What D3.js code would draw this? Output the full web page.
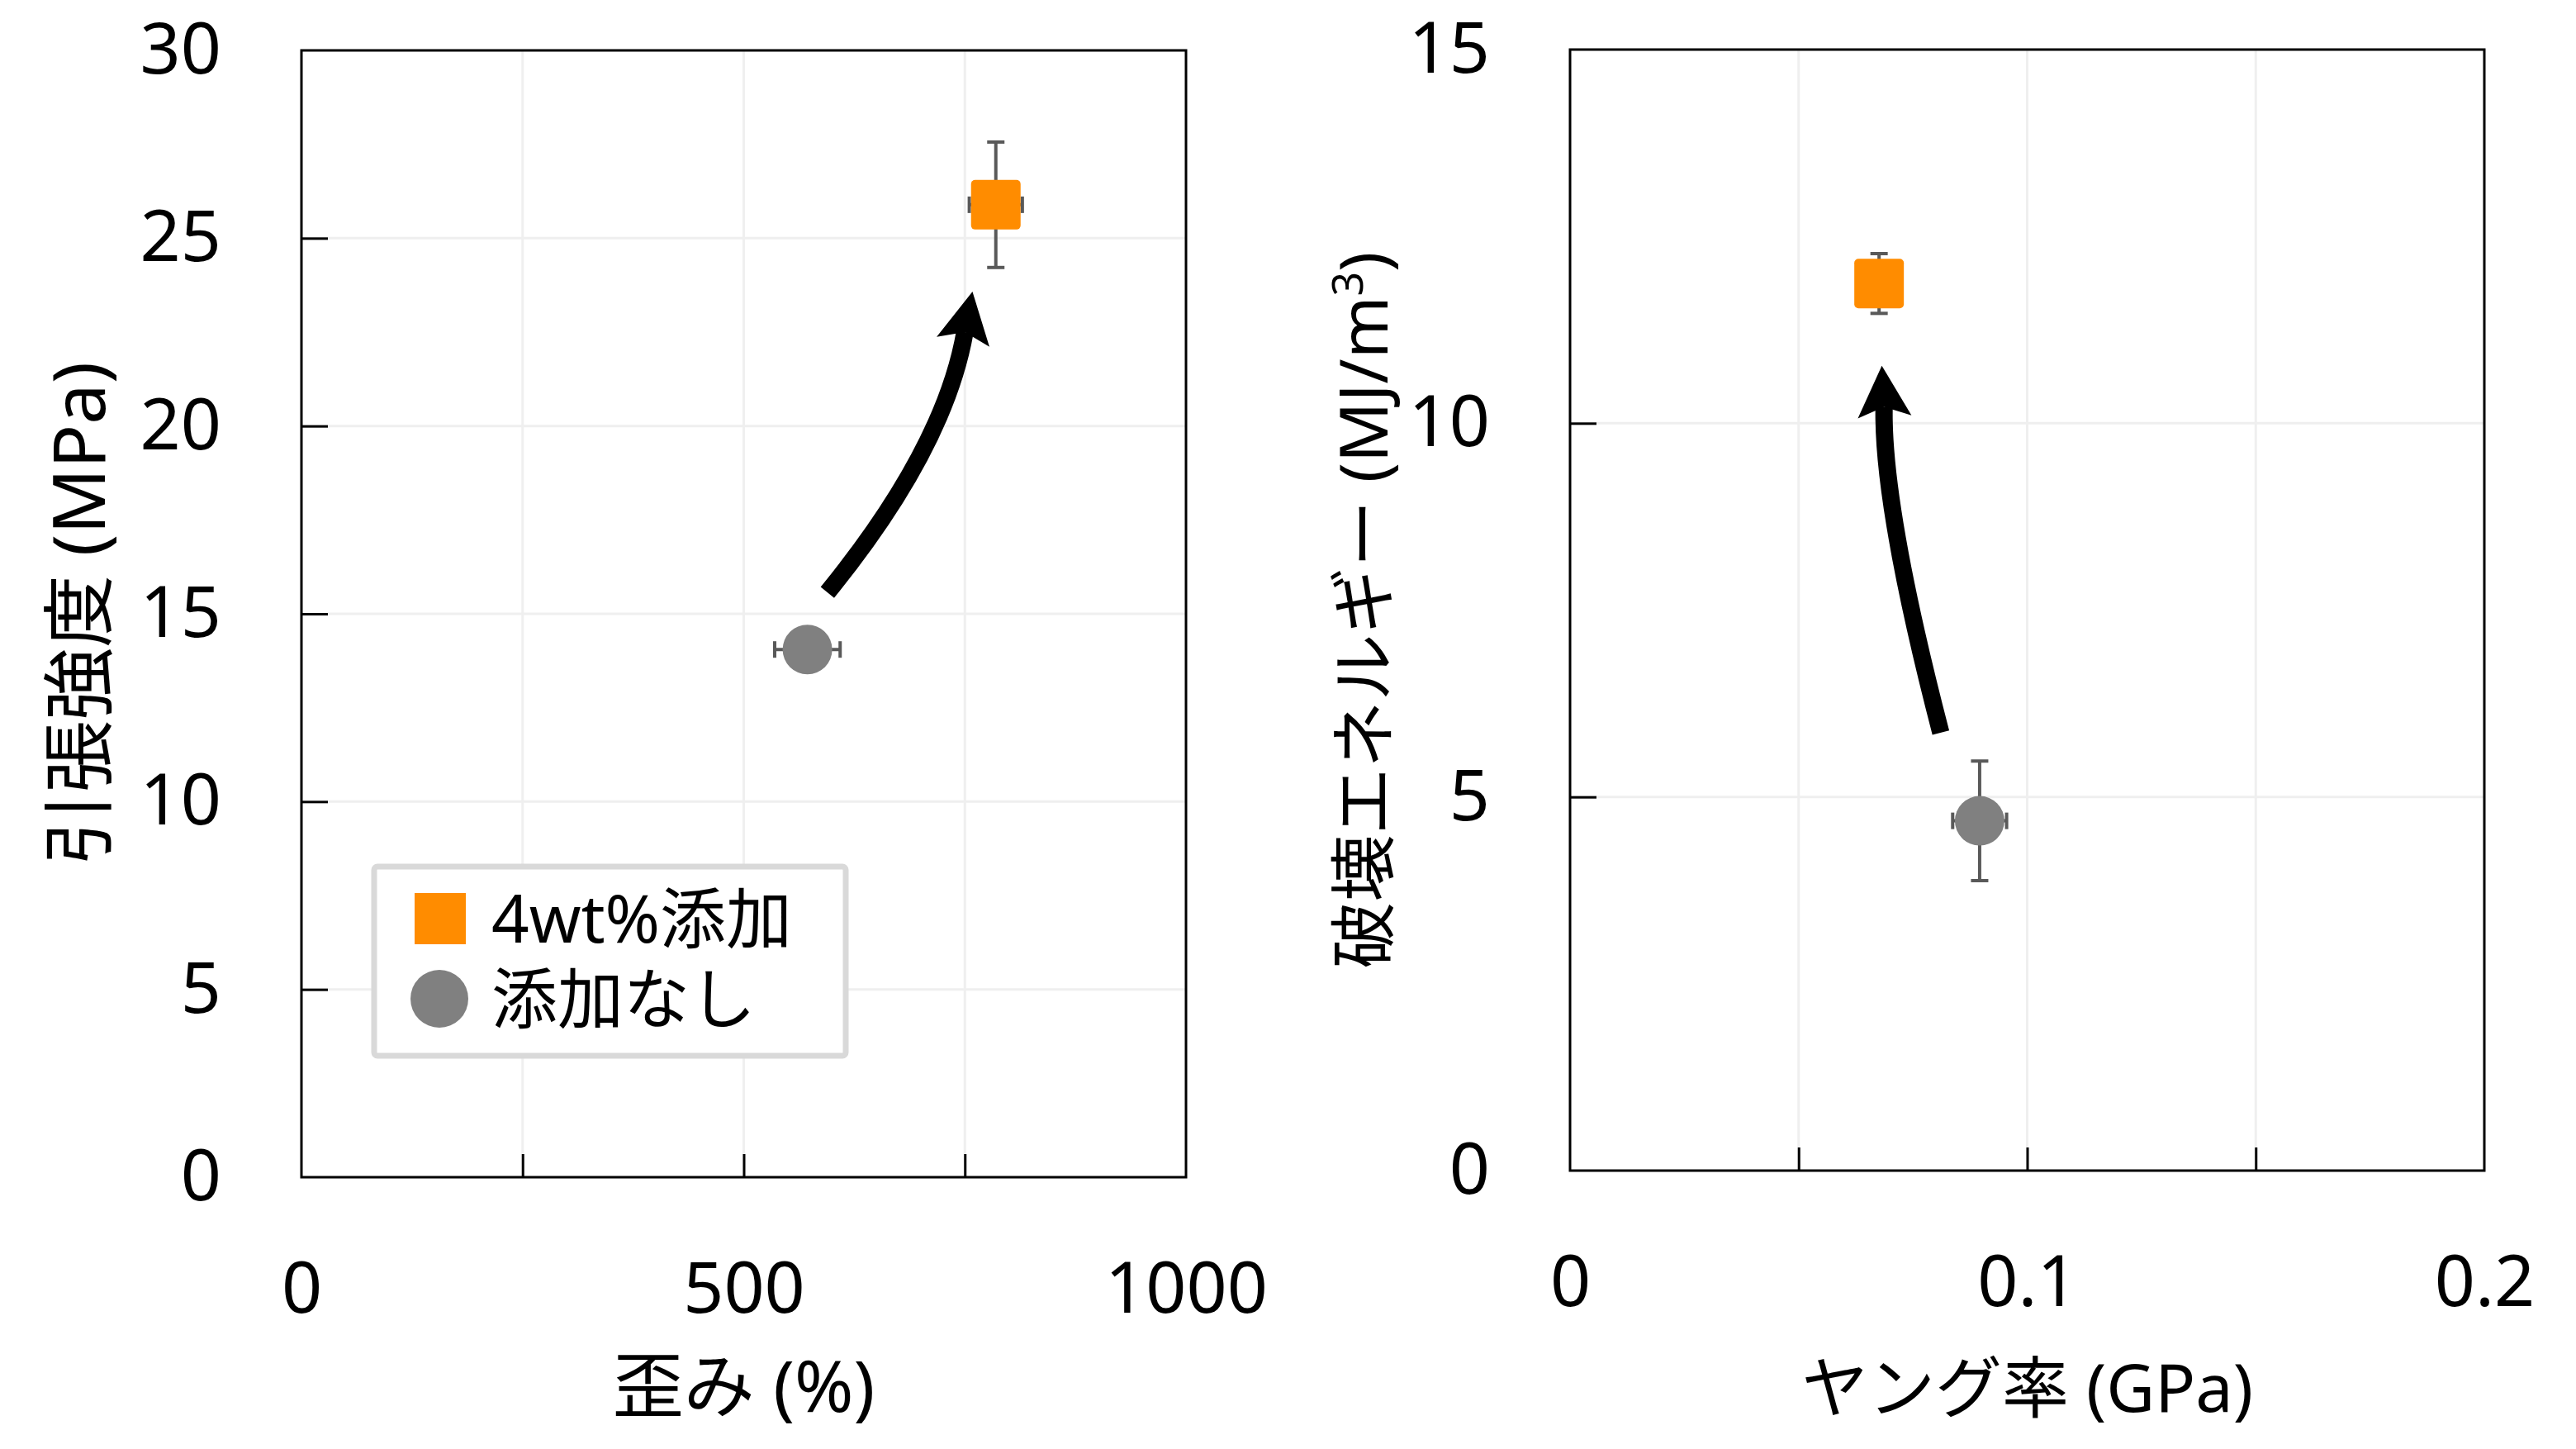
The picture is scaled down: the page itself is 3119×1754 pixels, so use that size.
<!DOCTYPE html>
<html>
<head>
<meta charset="utf-8">
<script src="https://cdn.jsdelivr.net/npm/d3@7"></script>
<style>
body { margin: 0; background: #fff; }
text { font-family: "Noto Sans", "Noto Sans CJK JP", sans-serif; fill: #000; }
</style>
</head>
<body>
<div class="chart"></div>
<script>
// data
var seriesNames = ["4wt%添加", "添加なし"];

var strain = [785, 572];
var strainErr = [30, 37];
var tensile = [25.89, 14.05];
var tensileErr = [1.67, 0.4];

var young = [0.0676, 0.0896];
var youngErr = [0.003, 0.0059];
var energy = [11.87, 4.68];
var energyErr = [0.4, 0.8];

// tick labels and grid positions
var strainTicks = [0, 500, 1000];
var strainGrid = [250, 500, 750];
var tensileTicks = [0, 5, 10, 15, 20, 25, 30];
var tensileGrid = [5, 10, 15, 20, 25];
var youngTicks = [0, 0.1, 0.2];
var youngGrid = [0.05, 0.1, 0.15];
var energyTicks = [0, 5, 10, 15];
var energyGrid = [5, 10];

// arrows in data space: tail, control, end of shaft, tip
var arrowStrain = [[594.6, 15.57], [727, 19.4], [750, 22.5], [758.6, 23.58]];
var arrowYoung = [[0.0811, 5.86], [0.0682, 8.9], [0.0687, 10.22], [0.0682, 10.77]];

var colors = ["#ff8c00", "#808080"];
var errColor = "#595959";
var gridColor = "#efefef";

var svgWidth = 3119;
var svgHeight = 1754;

var svg = d3.select(".chart")
  .append("svg")
  .attr("width", svgWidth)
  .attr("height", svgHeight);

svg.append("rect").attr("width", svgWidth).attr("height", svgHeight).attr("fill", "#fff");

function drawPanel(p) {
  var x = d3.scaleLinear().domain(p.xDomain).range([p.left, p.right]);
  var y = d3.scaleLinear().domain(p.yDomain).range([p.bottom, p.top]);
  var g = svg.append("g");

  // grid
  g.selectAll(".gx").data(p.xGrid).enter().append("line")
    .attr("x1", function(d) { return x(d); })
    .attr("x2", function(d) { return x(d); })
    .attr("y1", p.top).attr("y2", p.bottom)
    .attr("stroke", gridColor).attr("stroke-width", 3);
  g.selectAll(".gy").data(p.yGrid).enter().append("line")
    .attr("y1", function(d) { return y(d); })
    .attr("y2", function(d) { return y(d); })
    .attr("x1", p.left).attr("x2", p.right)
    .attr("stroke", gridColor).attr("stroke-width", 3);

  // inward ticks
  g.append("g")
    .attr("transform", "translate(" + p.left + ",0)")
    .call(d3.axisLeft(y).tickValues(p.yGrid).tickSize(-32).tickFormat(""))
    .call(function(a) { a.select(".domain").remove(); a.selectAll("line").attr("stroke-width", 3); });
  g.append("g")
    .attr("transform", "translate(0," + p.bottom + ")")
    .call(d3.axisBottom(x).tickValues(p.xGrid).tickSize(-28).tickFormat(""))
    .call(function(a) { a.select(".domain").remove(); a.selectAll("line").attr("stroke-width", 3); });

  // box
  g.append("rect")
    .attr("x", p.left).attr("y", p.top)
    .attr("width", p.right - p.left).attr("height", p.bottom - p.top)
    .attr("fill", "none").attr("stroke", "#000").attr("stroke-width", 3);

  // tick labels
  g.append("g")
    .attr("transform", "translate(" + p.left + ",0)")
    .call(d3.axisLeft(y).tickValues(p.yTicks).tickSize(0).tickPadding(97).tickFormat(function(d) { return String(d); }))
    .attr("font-size", 86)
    .call(function(a) { a.select(".domain").remove(); });
  g.append("g")
    .attr("transform", "translate(0," + p.bottom + ")")
    .call(d3.axisBottom(x).tickValues(p.xTicks).tickSize(0).tickPadding(103).tickFormat(function(d) { return String(d); }))
    .attr("font-size", 86)
    .call(function(a) { a.select(".domain").remove(); });

  // axis titles
  g.append("text")
    .attr("x", (p.left + p.right) / 2)
    .attr("y", 1709)
    .attr("text-anchor", "middle")
    .attr("font-size", p.xTitleSize)
    .text(p.xTitle);
  var yt = g.append("text")
    .attr("transform", "translate(" + p.yTitleX + "," + (p.top + p.bottom) / 2 + ") rotate(-90)")
    .attr("text-anchor", "middle")
    .attr("font-size", p.yTitleSize)
    .text(p.yTitle);
  if (p.yTitleSup) {
    yt.append("tspan").attr("font-size", p.yTitleSize * 0.64).attr("dy", -30).text(p.yTitleSup);
    yt.append("tspan").attr("dy", 30).text(")");
  }

  // arrow
  var a = p.arrow.map(function(d) { return [x(d[0]), y(d[1])]; });
  g.append("path")
    .attr("d", "M" + a[0] + "Q" + a[1] + " " + a[2])
    .attr("fill", "none").attr("stroke", "#000").attr("stroke-width", 21);
  var dx = a[3][0] - a[2][0], dy = a[3][1] - a[2][1];
  var len = Math.sqrt(dx * dx + dy * dy);
  dx /= len; dy /= len;
  var bx = a[3][0] - dx * 62, by = a[3][1] - dy * 62;
  var head = [a[3], [bx - dy * 32.5, by + dx * 32.5], a[2], [bx + dy * 32.5, by - dx * 32.5]];
  g.append("path")
    .attr("d", "M" + head.join("L") + "Z")
    .attr("fill", "#000");

  // error bars
  var idx = d3.range(p.xs.length);
  idx.forEach(function(i) {
    var cx = x(p.xs[i]), cy = y(p.ys[i]);
    var eb = g.append("g").attr("stroke", errColor).attr("stroke-width", 4);
    var y0 = y(p.ys[i] - p.yErr[i]), y1 = y(p.ys[i] + p.yErr[i]);
    eb.append("line").attr("x1", cx).attr("x2", cx).attr("y1", y0).attr("y2", y1);
    eb.append("line").attr("x1", cx - 10.5).attr("x2", cx + 10.5).attr("y1", y0).attr("y2", y0);
    eb.append("line").attr("x1", cx - 10.5).attr("x2", cx + 10.5).attr("y1", y1).attr("y2", y1);
    var x0 = x(p.xs[i] - p.xErr[i]), x1 = x(p.xs[i] + p.xErr[i]);
    eb.append("line").attr("x1", x0).attr("x2", x1).attr("y1", cy).attr("y2", cy);
    eb.append("line").attr("x1", x0).attr("x2", x0).attr("y1", cy - 10).attr("y2", cy + 10);
    eb.append("line").attr("x1", x1).attr("x2", x1).attr("y1", cy - 10).attr("y2", cy + 10);
  });

  // markers
  g.append("rect")
    .attr("x", x(p.xs[0]) - 30).attr("y", y(p.ys[0]) - 30)
    .attr("width", 60).attr("height", 60).attr("rx", 5)
    .attr("fill", colors[0]);
  g.append("circle")
    .attr("cx", x(p.xs[1])).attr("cy", y(p.ys[1])).attr("r", 30)
    .attr("fill", colors[1]);
}

drawPanel({
  left: 365, right: 1436, top: 61, bottom: 1425,
  xDomain: [0, 1000], yDomain: [0, 30],
  xTicks: strainTicks, xGrid: strainGrid,
  yTicks: tensileTicks, yGrid: tensileGrid,
  xs: strain, xErr: strainErr, ys: tensile, yErr: tensileErr,
  xTitle: "歪み (%)", xTitleSize: 86,
  yTitle: "引張強度 (MPa)", yTitleSize: 88, yTitleX: 127,
  arrow: arrowStrain
});

drawPanel({
  left: 1901, right: 3008, top: 60, bottom: 1417,
  xDomain: [0, 0.2], yDomain: [0, 15],
  xTicks: youngTicks, xGrid: youngGrid,
  yTicks: energyTicks, yGrid: energyGrid,
  xs: young, xErr: youngErr, ys: energy, yErr: energyErr,
  xTitle: "ヤング率 (GPa)", xTitleSize: 81,
  yTitle: "破壊エネルギー (MJ/m", yTitleSup: "3", yTitleSize: 81, yTitleX: 1680,
  arrow: arrowYoung
});

// legend (left panel)
var legend = svg.append("g");
legend.append("rect")
  .attr("x", 453).attr("y", 1049).attr("width", 571).attr("height", 229).attr("rx", 4)
  .attr("fill", "#fff").attr("stroke", "#d9d9d9").attr("stroke-width", 7);
legend.append("rect")
  .attr("x", 502).attr("y", 1081).attr("width", 62).attr("height", 62)
  .attr("fill", colors[0]);
legend.append("circle")
  .attr("cx", 532).attr("cy", 1209).attr("r", 35)
  .attr("fill", colors[1]);
legend.selectAll(".lt").data(seriesNames).enter().append("text")
  .attr("x", 595)
  .attr("y", function(d, i) { return 1141 + i * 97; })
  .attr("font-size", 80)
  .text(function(d) { return d; });
</script>
</body>
</html>
